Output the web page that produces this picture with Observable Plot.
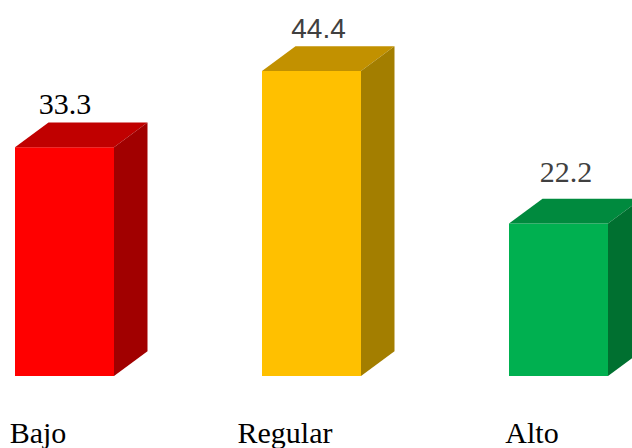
<!DOCTYPE html>
<html><head><meta charset="utf-8">
<script src="https://cdn.jsdelivr.net/npm/d3@7"></script>
<script src="https://cdn.jsdelivr.net/npm/@observablehq/plot@0.6"></script>
<style>html,body{margin:0;padding:0;overflow:hidden;background:#fff}svg{overflow:hidden}</style>
</head><body><div id="chart"></div>
<script>
const categories = ["Bajo", "Regular", "Alto"];
const values = [33.3, 44.4, 22.2];
const labels = ["33.3", "44.4", "22.2"];

const frontColors = ["#FF0000", "#FFC000", "#00B050"];
const topColors = ["#C00000", "#C29100", "#008A3E"];
const sideColors = ["#A10000", "#A37E00", "#007030"];
const depthX = 33.5, depthY = 24.8;

const data = categories.map((c, i) => ({cat: c, value: values[i], label: labels[i], i}));

function faces(index, scales, vals, dims, ctx, next) {
  const g = next(index, scales, vals, dims, ctx);
  const bw = typeof scales.x.bandwidth === "function" ? scales.x.bandwidth() : scales.x.bandwidth;
  const sel = d3.select(g);
  for (const i of index) {
    const x0 = vals.x[i], x1 = x0 + bw;
    const yt = Math.min(vals.y1[i], vals.y2[i]);
    const yb = Math.max(vals.y1[i], vals.y2[i]);
    const k = data[i].i;
    sel.append("path")
      .attr("d", `M${x0},${yt}L${x0 + depthX},${yt - depthY}L${x1 + depthX},${yt - depthY}L${x1},${yt}Z`)
      .attr("fill", topColors[k]);
    sel.append("path")
      .attr("d", `M${x1},${yt}L${x1 + depthX},${yt - depthY}L${x1 + depthX},${yb - depthY}L${x1},${yb}Z`)
      .attr("fill", sideColors[k]);
  }
  return g;
}

const chart = Plot.plot({
  width: 632,
  height: 448,
  marginLeft: 14,
  marginRight: 23,
  marginTop: 32.5,
  marginBottom: 72,
  style: {background: "#fff", color: "#000"},
  x: {domain: categories, paddingInner: 0.6, paddingOuter: 0},
  y: {domain: [0, 50], axis: null},
  marks: [
    Plot.barY(data, {x: "cat", y: "value", fill: d => frontColors[d.i], render: faces}),
    Plot.text(data.filter(d => d.cat === "Bajo"), {x: "cat", y: "value", text: "label", dy: -34, lineAnchor: "bottom", fontSize: 30, fontFamily: "Liberation Serif", fill: "#000"}),
    Plot.text(data.filter(d => d.cat === "Regular"), {x: "cat", y: "value", text: "label", dx: 6.5, dy: -33, lineAnchor: "bottom", fontSize: 28, fontFamily: "Liberation Sans", fill: "#404040"}),
    Plot.text(data.filter(d => d.cat === "Alto"), {x: "cat", y: "value", text: "label", dx: 7, dy: -42, lineAnchor: "bottom", fontSize: 30, fontFamily: "Liberation Serif", fill: "#404040"}),
    Plot.axisX({tickSize: 0, tickPadding: 44.7, fontSize: 30, fontFamily: "Liberation Serif", label: null, dx: -27, fill: "#000"})
  ]
});
document.getElementById("chart").appendChild(chart);
</script>
</body></html>
